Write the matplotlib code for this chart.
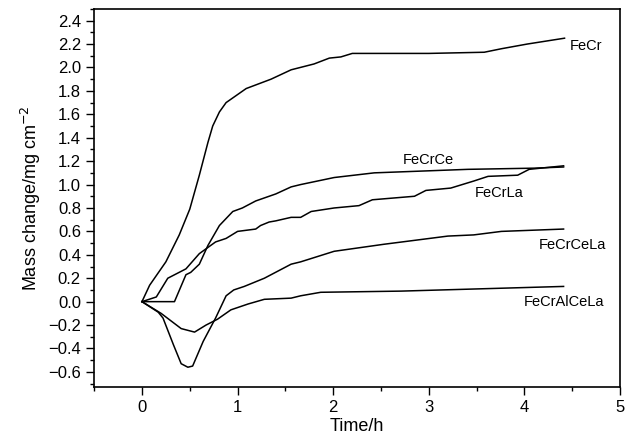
import matplotlib
matplotlib.use('Agg')
import matplotlib.pyplot as plt
from matplotlib.ticker import MultipleLocator

plt.rcParams['font.family'] = ['Liberation Sans', 'DejaVu Sans']

# values (time in h, mass change in mg/cm2)
fecr_t = [0, 0.08, 0.25, 0.39, 0.5, 0.6, 0.69, 0.74, 0.81, 0.88, 1.09, 1.35, 1.56, 1.8, 1.96,
          2.08, 2.2, 3.0, 3.58, 3.76, 4.03, 4.42]
fecr_m = [0, 0.14, 0.34, 0.57, 0.79, 1.08, 1.36, 1.50, 1.62, 1.70, 1.82, 1.90, 1.98, 2.03, 2.08,
          2.09, 2.12, 2.12, 2.13, 2.16, 2.20, 2.25]

fecrce_t = [0, 0.34, 0.46, 0.51, 0.6, 0.69, 0.81, 0.95, 1.05, 1.19, 1.40, 1.56, 1.66, 2.01, 2.43,
            3.41, 4.1, 4.41]
fecrce_m = [0, 0, 0.23, 0.25, 0.32, 0.48, 0.65, 0.77, 0.80, 0.86, 0.92, 0.98, 1.0, 1.06, 1.10,
            1.13, 1.14, 1.15]

fecrla_t = [0, 0.15, 0.27, 0.46, 0.6, 0.77, 0.88, 1.0, 1.19, 1.24, 1.33, 1.4, 1.56, 1.66, 1.77,
            2.01, 2.27, 2.41, 2.85, 2.97, 3.23, 3.47, 3.62, 3.93, 4.05, 4.41]
fecrla_m = [0, 0.04, 0.2, 0.28, 0.41, 0.51, 0.54, 0.6, 0.62, 0.65, 0.68, 0.69, 0.72, 0.72, 0.77,
            0.80, 0.82, 0.87, 0.9, 0.95, 0.97, 1.03, 1.07, 1.08, 1.13, 1.16]

fecrcela_t = [0, 0.17, 0.22, 0.33, 0.41, 0.48, 0.53, 0.64, 0.77, 0.88, 0.96, 1.07, 1.28, 1.56,
              1.66, 2.01, 2.53, 3.2, 3.47, 3.76, 4.41]
fecrcela_m = [0, -0.09, -0.14, -0.37, -0.53, -0.56, -0.55, -0.34, -0.14, 0.05, 0.1, 0.13, 0.2,
              0.32, 0.34, 0.43, 0.49, 0.56, 0.57, 0.6, 0.62]

fecralcela_t = [0, 0.2, 0.41, 0.55, 0.67, 0.79, 0.93, 1.11, 1.28, 1.56, 1.66, 1.87, 2.71, 4.41]
fecralcela_m = [0, -0.1, -0.23, -0.26, -0.2, -0.15, -0.07, -0.02, 0.02, 0.03, 0.05, 0.08, 0.09, 0.13]

series = [(fecr_t, fecr_m), (fecrce_t, fecrce_m), (fecrla_t, fecrla_m),
          (fecrcela_t, fecrcela_m), (fecralcela_t, fecralcela_m)]

labels = ['FeCr', 'FeCrCe', 'FeCrLa', 'FeCrCeLa', 'FeCrAlCeLa']
label_pos = [(4.47, 2.18, 'left'), (3.0, 1.21, 'center'), (3.48, 0.93, 'left'),
             (4.15, 0.48, 'left'), (3.99, 0.0, 'left')]

fig = plt.figure(figsize=(6.32, 4.46), dpi=100)
ax = fig.add_axes([0.149, 0.132, 0.832, 0.848])

for t, m in series:
    ax.plot(t, m, color='black', lw=1.1)

for name, (x, y, ha) in zip(labels, label_pos):
    ax.text(x, y, name, ha=ha, va='center', fontsize=10.5)

ax.set_xlim(-0.5, 5)
ax.set_ylim(-0.73, 2.5)
ax.xaxis.set_major_locator(MultipleLocator(1))
ax.xaxis.set_minor_locator(MultipleLocator(0.5))
ax.yaxis.set_major_locator(MultipleLocator(0.2))
ax.yaxis.set_minor_locator(MultipleLocator(0.1))
ax.yaxis.set_major_formatter(plt.FuncFormatter(lambda v, p: f'{v:.1f}'.replace('-', '\u2212')))

ax.tick_params(which='major', direction='out', length=6, width=1, labelsize=12)
ax.tick_params(which='minor', direction='out', length=3, width=1)
for s in ax.spines.values():
    s.set_linewidth(1.2)

ax.set_xlabel('Time/h', fontsize=13, labelpad=2)
ax.set_ylabel('Mass change/mg cm$^{-2}$', fontsize=13, labelpad=4)

fig.savefig('out.png', dpi=100)
